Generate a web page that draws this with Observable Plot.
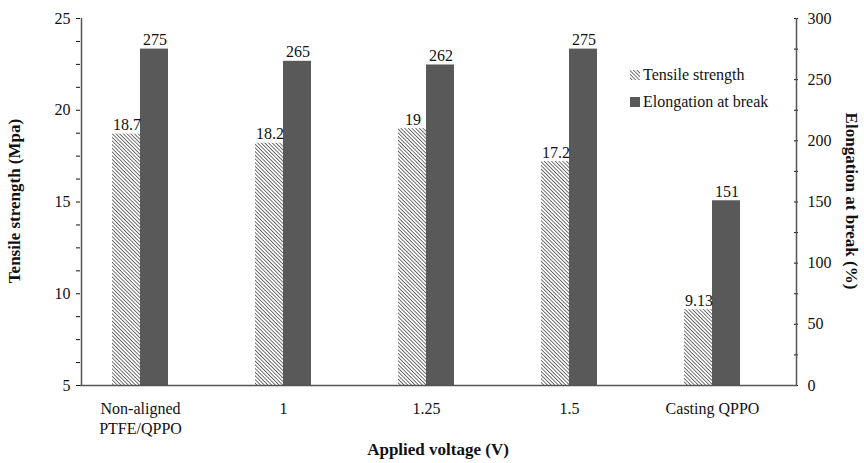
<!DOCTYPE html>
<html>
<head>
<meta charset="utf-8">
<script src="https://cdn.jsdelivr.net/npm/d3@7"></script>
<script src="https://cdn.jsdelivr.net/npm/@observablehq/plot@0.6"></script>
<style>
  body { margin: 0; background: #fff; }
  #chart svg, #chart svg text { font-family: "Liberation Serif", serif !important; }
</style>
</head>
<body>
<div id="chart"></div>
<script>
const categories = ["Non-aligned\nPTFE/QPPO", "1", "1.25", "1.5", "Casting QPPO"];
const tensile = [18.7, 18.2, 19, 17.2, 9.13];
const elongation = [275, 265, 262, 275, 151];
const leftTicks = [5, 10, 15, 20, 25];
const rightTicks = [0, 50, 100, 150, 200, 250, 300];

// right axis (0-300) mapped onto left scale (5-25)
const toLeft = (v) => 5 + (v / 300) * 20;

const tData = categories.map((c, i) => ({cat: c, v: tensile[i]}));
const eData = categories.map((c, i) => ({cat: c, v: elongation[i], y: toLeft(elongation[i])}));

const font = "Liberation Serif, serif";

const chart = Plot.plot({
  width: 864,
  height: 463,
  marginLeft: 80,
  marginRight: 67,
  marginTop: 18,
  marginBottom: 78,
  style: {fontFamily: font, fontSize: "16px", color: "#111", background: "#fff"},
  x: {domain: categories, padding: 0, label: null},
  y: {domain: [5, 25], label: null},
  marks: [
    Plot.barY(tData, {x: "cat", y1: 5, y2: "v", fill: "url(#hatch)", insetLeft: 31, insetRight: 84}),
    Plot.barY(eData, {x: "cat", y1: 5, y2: "y", fill: "#595959", insetLeft: 59, insetRight: 56}),
    Plot.text(tData, {x: "cat", y: "v", text: (d) => String(d.v), dx: -26, dy: -9, fontSize: 16}),
    Plot.text(eData, {x: "cat", y: "y", text: (d) => String(d.v), dx: 2, dy: -9, fontSize: 16}),
    Plot.axisX({tickSize: 0, tickPadding: 14, fontSize: 16, label: null, lineHeight: 1.25, dx: -12.5}),
    Plot.axisY({ticks: d3.range(5, 25.01, 1.25), tickSize: 4, tickFormat: () => "", label: null}),
    Plot.axisY({ticks: leftTicks, tickSize: 0, tickPadding: 10, fontSize: 16, label: null}),
    Plot.axisY({anchor: "right", ticks: d3.range(0, 301, 25).map(toLeft), tickSize: -4, tickFormat: () => "", label: null}),
    Plot.axisY({anchor: "right", ticks: rightTicks.map(toLeft), tickSize: 0, tickPadding: 10,
      tickFormat: (d) => String(Math.round((d - 5) / 20 * 300)), fontSize: 16, label: null}),
    Plot.ruleY([5], {stroke: "#555", strokeWidth: 1.5}),
    Plot.ruleX([categories[0]], {y1: 5, y2: 25, dx: -71.5, stroke: "#555", strokeWidth: 1.5}),
    Plot.ruleX([categories[4]], {y1: 5, y2: 25, dx: 71.5, stroke: "#555", strokeWidth: 1.5})
  ]
});

const svg = d3.select(chart);
const defs = svg.insert("defs", ":first-child");
const pat = defs.append("pattern").attr("id", "hatch").attr("patternUnits", "userSpaceOnUse")
  .attr("width", 2.6).attr("height", 2.6).attr("patternTransform", "rotate(-45)");
pat.append("rect").attr("width", 2.6).attr("height", 2.6).attr("fill", "#fff");
pat.append("line").attr("x1", 0).attr("y1", 0).attr("x2", 0).attr("y2", 2.6)
  .attr("stroke", "#444").attr("stroke-width", 1.5);

// axis titles
svg.append("text").attr("transform", "translate(20,201) rotate(-90)").attr("text-anchor", "middle")
  .attr("font-weight", "bold").attr("font-size", 17).text("Tensile strength (Mpa)");
svg.append("text").attr("transform", "translate(846,201) rotate(90)").attr("text-anchor", "middle")
  .attr("font-weight", "bold").attr("font-size", 17).text("Elongation at break (%)");
svg.append("text").attr("x", 438).attr("y", 455).attr("text-anchor", "middle")
  .attr("font-weight", "bold").attr("font-size", 17).text("Applied voltage (V)");

// legend
const lg = svg.append("g").attr("font-size", 16).attr("text-anchor", "start");
lg.append("rect").attr("x", 630).attr("y", 70).attr("width", 10).attr("height", 10).attr("fill", "url(#hatch)");
lg.append("text").attr("x", 643).attr("y", 80).text("Tensile strength");
lg.append("rect").attr("x", 630).attr("y", 97).attr("width", 10).attr("height", 10).attr("fill", "#595959");
lg.append("text").attr("x", 643).attr("y", 107).text("Elongation at break");

document.getElementById("chart").append(chart);
</script>
</body>
</html>
